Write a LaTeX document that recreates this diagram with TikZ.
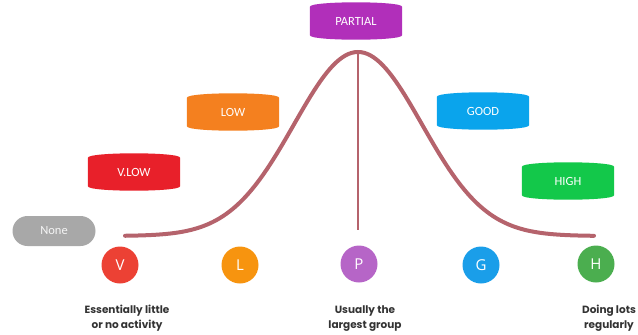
\documentclass[tikz,border=0pt]{standalone}
\usepackage{fontspec}
\setmainfont{Carlito}
\newfontfamily\circfont{Open Sans}
\newfontfamily\capfont{Poppins}
\usetikzlibrary{backgrounds}
\definecolor{curvecol}{HTML}{B5636C}
\definecolor{cvlow}{HTML}{E8202A}
\definecolor{clow}{HTML}{F4801F}
\definecolor{cpart}{HTML}{B12FBA}
\definecolor{cgood}{HTML}{0AA4EC}
\definecolor{chigh}{HTML}{13C84A}
\definecolor{cnone}{HTML}{A8A8A8}
\definecolor{dV}{HTML}{EC4134}
\definecolor{dL}{HTML}{F7940F}
\definecolor{dP}{HTML}{B665C7}
\definecolor{dG}{HTML}{1A9EE9}
\definecolor{dH}{HTML}{4BAE4F}
\definecolor{captxt}{HTML}{333333}
\newcommand\barrelfill[2]{%
  \begin{scope}[on background layer]
  \fill[#2, rounded corners=2pt] (#1.north west) .. controls ([yshift=8pt]#1.north west) and ([yshift=8pt]#1.north east) .. (#1.north east)
    -- (#1.south east) .. controls ([yshift=-8pt]#1.south east) and ([yshift=-8pt]#1.south west) .. (#1.south west) -- cycle;
  \end{scope}}
\tikzset{
  barrel/.style={minimum width=92pt, minimum height=24pt, inner sep=0pt, text=white, font=\fontsize{12.5}{14}\selectfont},
  nonebox/.style={fill=cnone, rounded corners=15pt, minimum width=83pt, minimum height=30pt, inner sep=0pt, text=white!88!cnone, font=\fontsize{12.5}{14}\selectfont},
  dot/.style={circle, minimum size=37pt, inner sep=0pt, text=white, font=\circfont\fontsize{15}{16}\selectfont},
  caption/.style={align=center, text=captxt, font=\capfont\bfseries\fontsize{10.5}{15}\selectfont},
  curve/.style={draw=curvecol, line width=4pt, line cap=round},
  stem/.style={draw=curvecol, line width=1.6pt}
}
\begin{document}
\begin{tikzpicture}[x=1pt,y=-1pt]
\useasboundingbox (0,0) rectangle (638,335);
% bell curve
\draw[curve] plot[domain=125:594, samples=150] (\x, {236-184*exp(-0.5*((\x-358)/64)^2)});
\coordinate (peak) at (358,52);
\coordinate (stemend) at (358,230);
\draw[stem] (peak) -- (stemend);
% labels
\node[nonebox] (none) at (54,231) {None};
\node[barrel] (vlow) at (134,172) {V.LOW}; \barrelfill{vlow}{cvlow}
\node[barrel] (low) at (233,112) {LOW}; \barrelfill{low}{clow}
\node[barrel] (partial) at (356,21) {PARTIAL}; \barrelfill{partial}{cpart}
\node[barrel] (good) at (483,111) {GOOD}; \barrelfill{good}{cgood}
\node[barrel] (high) at (568,181) {HIGH}; \barrelfill{high}{chigh}
% circles
\node[dot, fill=dV] (V) at (120,265) {V};
\node[dot, fill=dL] (L) at (240,265) {L};
\node[dot, fill=dP] (P) at (359,264) {P};
\node[dot, fill=dG] (G) at (481,265) {G};
\node[dot, fill=dH] (H) at (596,264) {H};
% captions
\node[caption] (cV) at (127,318.5) {Essentially little\\or no activity};
\node[caption] (cP) at (365,318.5) {Usually the\\largest group};
\node[caption] (cH) at (609,318.5) {Doing lots\\regularly};
\end{tikzpicture}
\end{document}
